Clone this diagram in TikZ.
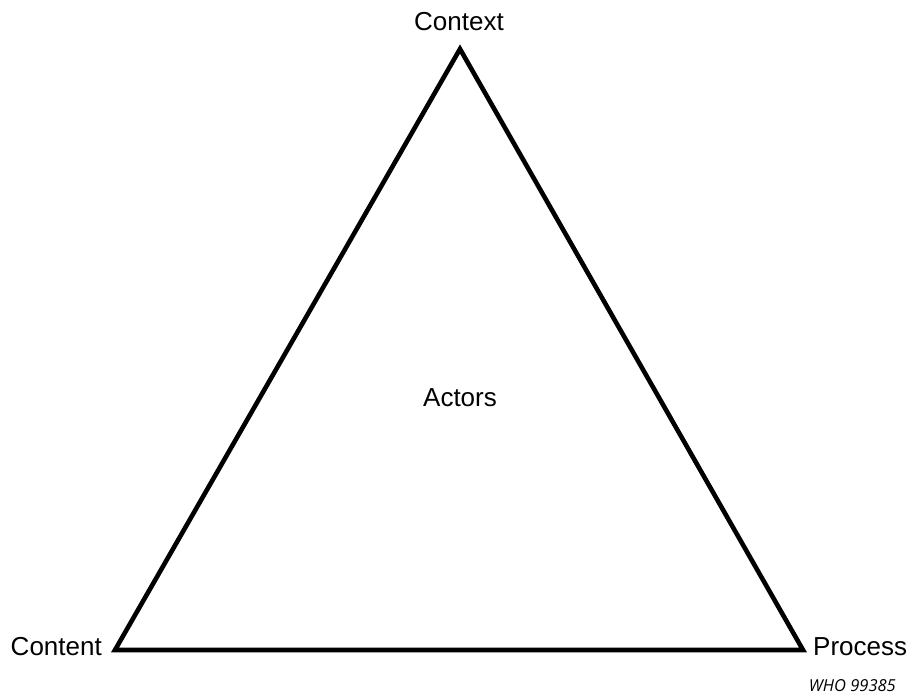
\documentclass[tikz,border=0pt]{standalone}
\usepackage{fontspec}
\setmainfont{Liberation Sans}
\newfontfamily\notefont{Open Sans}
\begin{document}
\begin{tikzpicture}[x=1pt,y=-1pt,
  edge/.style={line width=4.6pt,line join=miter,line cap=butt},
  label/.style={font=\fontsize{26}{30}\selectfont,inner sep=0pt},
  note/.style={font=\notefont\itshape\fontsize{16.5}{19}\selectfont,inner sep=0pt}]
\useasboundingbox (0,0) rectangle (919,700);
\coordinate (top) at (460,49);
\coordinate (left) at (115,650);
\coordinate (right) at (803,650);
\draw[edge] (top) -- (left) -- (right) -- cycle;
\node[label] (context) at (459,22) {Context};
\node[label,anchor=east] (content) at (102,647) {Content};
\node[label,anchor=west] (process) at (813,647) {Process};
\node[label] (actors) at (460,398) {Actors};
\node[note,anchor=east] (ref) at (896,686) {WHO 99385};
\end{tikzpicture}
\end{document}
